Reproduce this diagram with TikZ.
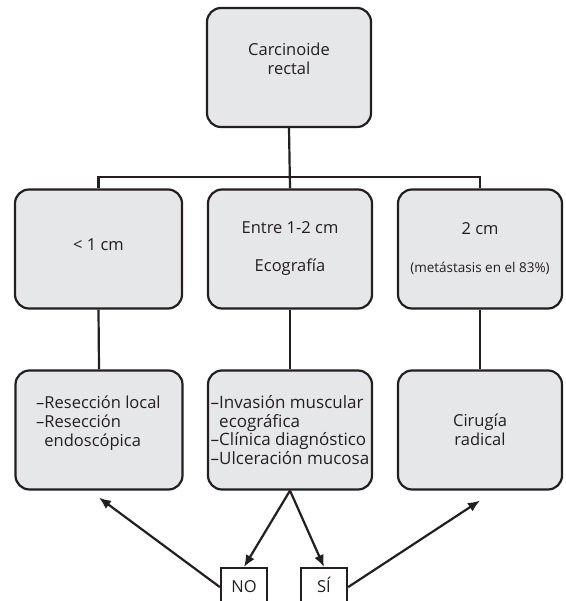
\documentclass[tikz,border=0pt]{standalone}
\usepackage{fontspec}
\setmainfont{Open Sans}
\usetikzlibrary{arrows.meta,positioning}
\definecolor{boxgray}{HTML}{E6E7E8}
\definecolor{lineink}{HTML}{231F20}

\begin{document}
\begin{tikzpicture}[
        x=1pt,y=-1pt,
        >={Latex[length=12pt,width=10pt]},
        link/.style={line width=2.2pt,draw=lineink},
        flow/.style={->,line width=2.2pt,draw=lineink},
        stage/.style={rounded corners=14pt,line width=2.2pt,draw=lineink,fill=boxgray,
          minimum width=164pt,minimum height=119pt,align=center,text=lineink,
          font=\fontsize{16.5}{19}\selectfont},
        answer/.style={draw=lineink,line width=2.2pt,fill=white,anchor=north,
          minimum width=46pt,inner xsep=0pt,inner ysep=0pt,text height=24pt,text depth=14pt,
          text=lineink,font=\fontsize{16.5}{17}\selectfont}
      ]
        \useasboundingbox (0,0) rectangle (565,601);
        \clip (0,0) rectangle (565,601);

        \node[stage,text depth=18pt] (carcinoid) at (289,67.5) {Carcinoide\\rectal};

        \node[stage,minimum width=167pt,text depth=8pt] (small) at (98.5,249) {< 1 cm};
        \node[stage] (medium) at (290,249) {Entre 1-2 cm\\[19pt]Ecografía};
        \node[stage] (large) at (480,249) {2 cm\\[19pt]{\fontsize{13.5}{14}\selectfont(metástasis en el 83\%)}};

        \node[stage,minimum width=167pt] (local) at (99,430) {};
        \node[anchor=base west,align=left,text=lineink,inner sep=0pt,
          font=\fontsize{16.5}{19}\selectfont] (localtxt) at (36,446)
          {–Resección local\\–Resección\\\phantom{–}endoscópica};
        \node[stage,align=left,inner xsep=0pt,font=\fontsize{17}{18.7}\selectfont] (criteria) at (290,430)
          {–Invasión muscular\\\phantom{–}ecográfica\\–Clínica diagnóstico\\–Ulceración mucosa};
        \node[stage] (surgery) at (480,430) {Cirugía\\radical};

        \node[answer] (no) at (244,567) {NO};
        \node[answer] (yes) at (324,567) {SÍ};

        % tree on top
        \coordinate (bar) at (289,177);
        \draw[link] (carcinoid.south) -- (medium.north);
        \draw[link] (small.north) -- (small.north |- bar) -- (large.north |- bar) -- (large.north);
        \draw[link] (small.south) -- (local.north);
        \draw[link] (medium.south) -- (criteria.north);
        \draw[link] (large.south) -- (surgery.north);

        % decisions
        \draw[flow] (criteria.south) -- (no.north);
        \draw[flow] (criteria.south) -- (yes.north);
        \draw[flow] (no.west) -- ([yshift=-7pt]local.south);
        \draw[flow] (yes.east) -- ([yshift=-10pt]surgery.south);
      \end{tikzpicture}
\end{document}
